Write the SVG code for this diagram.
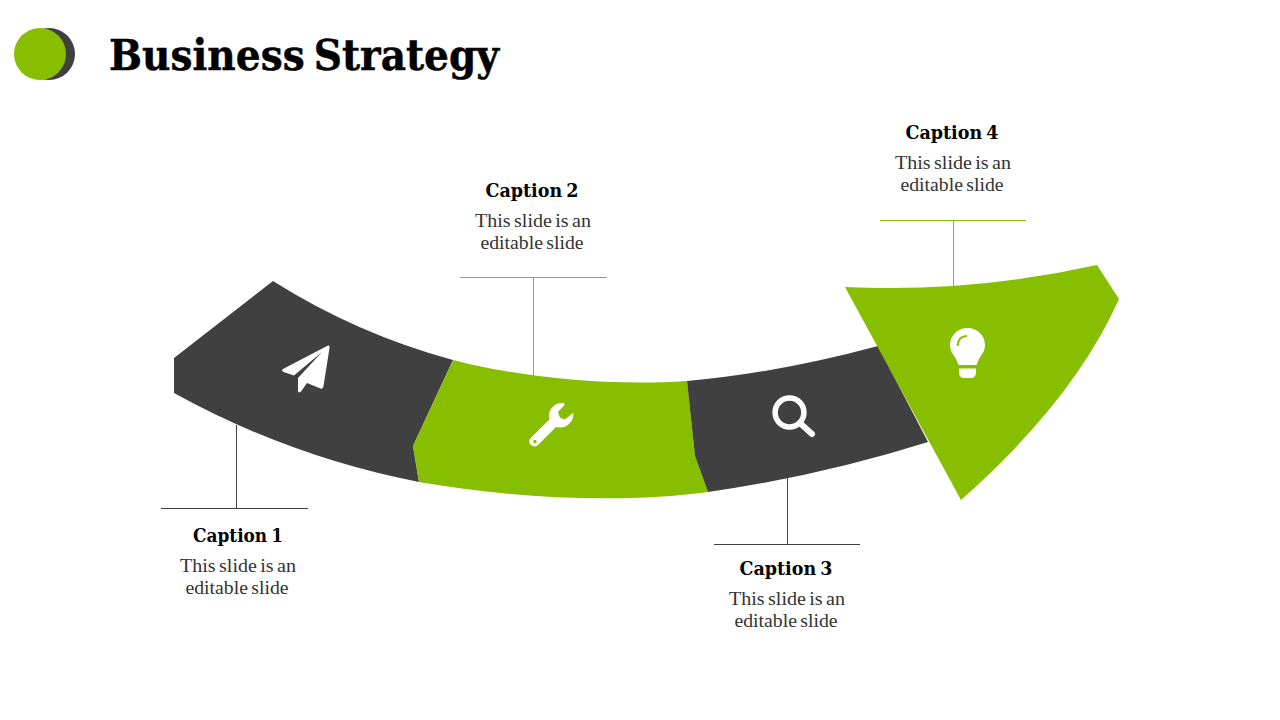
<svg xmlns="http://www.w3.org/2000/svg" width="1280" height="720" viewBox="0 0 1280 720">
<style>
.g{fill:#87be00}.d{fill:#404040}.w{fill:#fff}
text{text-anchor:middle;font-family:"DejaVu Serif","Liberation Serif",serif}
.t{font-size:43px;font-weight:700;fill:#000;text-anchor:start;word-spacing:-5px;stroke:#000;stroke-width:.5px}
.c{font-size:18px;font-weight:700;fill:#000;word-spacing:-2px}
.b{font-size:19px;fill:#333;font-family:"Liberation Serif",serif;word-spacing:-1.500px}
.ld{stroke:#404040;stroke-width:1;fill:none}
.lg{stroke:#87be00;stroke-width:1;fill:none}
</style>
<rect width="1280" height="720" fill="#fff"/>
<g id="title-badge"><circle class="d" cx="49" cy="54" r="26"/><circle class="g" cx="40" cy="54" r="26"/></g>
<text id="title" class="t" x="109" y="70" textLength="390" lengthAdjust="spacingAndGlyphs">Business Strategy</text>
<g id="connectors">
<path class="ld" d="M236.500 425V508.500M161 508.500H308"/>
<path class="lg" d="M533.500 377V277.500M460 277.500H607"/>
<path class="ld" d="M787.500 478V544.500M714 544.500H860"/>
<path class="lg" d="M953.500 286V220.500M880 220.500H1026"/>
</g>
<g id="node-1">
<path class="d" d="M174 358L273 281Q357 334 453 360L413 446L419 482Q290 457 174 393Z"/>
<path class="w" d="M328 345.500Q330 345 329.500 348L323.500 386Q323 389.500 320.500 388.500L307 383L301 391.500Q298 394 298 390.500V378L322 352L294 375.500L283.500 372Q281 370.500 283 369Z"/>
</g>
<g id="node-2">
<path class="g" d="M453 360C510 375 600 387 687 381L695 456L708 492C620 504 510 498 419 482L413 446Z"/>
<path class="w" stroke="#fff" stroke-width="1" stroke-linejoin="round" fill-rule="evenodd" d="M564 403.500C556 402.500 549 408 549.500 416L550 419.500L531.500 437.500C529 440 529.500 443 531 444.500C533 446.500 536 446.500 538 444.500L556 426.500C565 429 573 423 573 413.500L565 420L559.500 418L557.500 412L564 405ZM532.800 441.500A2.200 2.200 0 1 0 537.200 441.500A2.200 2.200 0 1 0 532.800 441.500Z"/>
</g>
<g id="node-3">
<path class="d" d="M687 381Q778 373 878 346L928 442Q820 476 708 492L695 456Z"/>
<circle cx="789.500" cy="412.500" r="14.400" fill="none" stroke="#fff" stroke-width="5.500"/>
<path d="M801 424L812 434" stroke="#fff" stroke-width="6" stroke-linecap="round" fill="none"/>
</g>
<g id="node-4">
<path class="g" d="M845 287Q971 293 1097 265L1119 299Q1074 400 961 500Z"/>
<path class="w" d="M967.500 328C957 328 950 336 950 345C950 351 953 354 956 359L958.500 365H976.500L979 359C982 354 985 351 985 345C985 336 978 328 967.500 328ZM959 368.500H976V372C976 376 974 378 971 378H964C961 378 959 376 959 372Z"/>
<path d="M958 345C958 340 961 336.500 966 336" stroke="#87be00" stroke-width="2.200" fill="none" stroke-linecap="round"/>
</g>
<g id="caption-1"><text class="c" x="238" y="542" textLength="90" lengthAdjust="spacingAndGlyphs">Caption 1</text><text class="b" x="238" y="572" textLength="116" lengthAdjust="spacingAndGlyphs">This slide is an</text><text class="b" x="237" y="594" textLength="103" lengthAdjust="spacingAndGlyphs">editable slide</text></g>
<g id="caption-2"><text class="c" x="532" y="197" textLength="93" lengthAdjust="spacingAndGlyphs">Caption 2</text><text class="b" x="533" y="227" textLength="116" lengthAdjust="spacingAndGlyphs">This slide is an</text><text class="b" x="532" y="249" textLength="103" lengthAdjust="spacingAndGlyphs">editable slide</text></g>
<g id="caption-3"><text class="c" x="786" y="575" textLength="93" lengthAdjust="spacingAndGlyphs">Caption 3</text><text class="b" x="787" y="605" textLength="116" lengthAdjust="spacingAndGlyphs">This slide is an</text><text class="b" x="786" y="627" textLength="103" lengthAdjust="spacingAndGlyphs">editable slide</text></g>
<g id="caption-4"><text class="c" x="952" y="139" textLength="93" lengthAdjust="spacingAndGlyphs">Caption 4</text><text class="b" x="953" y="169" textLength="116" lengthAdjust="spacingAndGlyphs">This slide is an</text><text class="b" x="952" y="191" textLength="103" lengthAdjust="spacingAndGlyphs">editable slide</text></g>
</svg>
